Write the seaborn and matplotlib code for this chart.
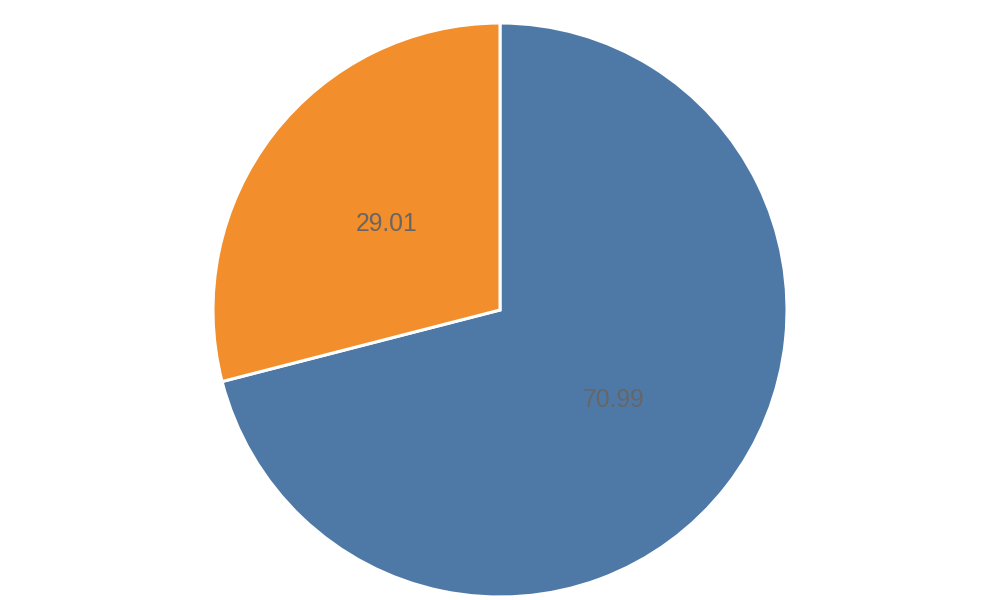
import matplotlib
matplotlib.use("Agg")
import matplotlib.pyplot as plt
import seaborn as sns

# data
labels = ["70.99", "29.01"]
values = [70.99, 29.01]
colors = ["#4e79a7", "#f28e2b"]

sns.set_style("white")
plt.rcParams["font.family"] = ["Liberation Sans", "DejaVu Sans"]

fig = plt.figure(figsize=(10, 6), dpi=100)
ax = fig.add_axes([0, 0, 1, 1])

wedges, texts = ax.pie(
    values,
    labels=labels,
    colors=colors,
    startangle=90,
    counterclock=False,
    labeldistance=0.5,
    radius=1,
    wedgeprops=dict(edgecolor="white", linewidth=2.2),
    textprops=dict(color="#666666", fontsize=17.8, ha="center", va="center"),
)

# labels sit a touch lower in the reference
for t in texts:
    x, y = t.get_position()
    t.set_position((x, y - 0.007))

# radius ~287 px, center at (500, 310) px from top-left
r = 287.0
ax.set_xlim(-500 / r, 500 / r)
ax.set_ylim(-290 / r, 310 / r)
ax.set_aspect("auto")
ax.axis("off")

fig.savefig("out.png", dpi=100, facecolor="white")
